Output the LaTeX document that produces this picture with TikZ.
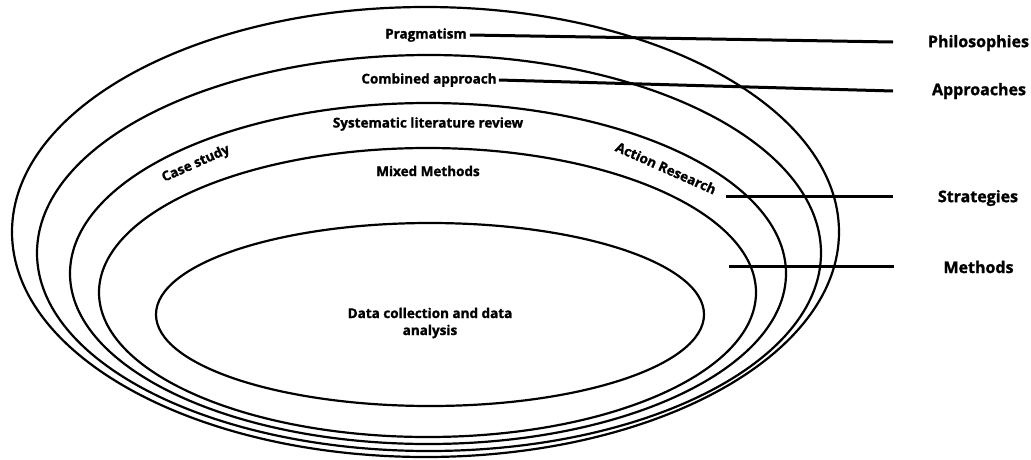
\documentclass[tikz,border=0pt]{standalone}
\usepackage{fontspec}
\setmainfont{Open Sans}[BoldFeatures={FakeBold=1.3}]
\begin{document}
\begin{tikzpicture}[x=1pt,y=-1pt,
  ring/.style={line width=2.2pt},
  conn/.style={line width=3pt},
  inlabel/.style={font=\fontsize{13.5}{16}\selectfont\bfseries, inner sep=1pt},
  layer/.style={font=\fontsize{16}{19}\selectfont\bfseries, inner sep=1pt}]
\useasboundingbox (0,0) rectangle (1031,459);

% nested onion layers, outermost first
\draw[ring] (425.5,232)   ellipse [x radius=413.5pt, y radius=225pt];
\draw[ring] (429,253)     ellipse [x radius=392pt,   y radius=198pt];
\draw[ring] (428,273.5)   ellipse [x radius=358pt,   y radius=170.5pt];
\draw[ring] (427.5,292.5) ellipse [x radius=328.5pt, y radius=144.5pt];
\draw[ring] (430,314.5)   ellipse [x radius=274pt,   y radius=91.5pt];

% texts inside the layers
\node[inlabel] (prag) at (426,35)  {Pragmatism};
\node[inlabel] (comb) at (429,80)  {Combined approach};
\node[inlabel] (slr)  at (428,124) {Systematic literature review};
\node[inlabel] (mixed) at (428,171) {Mixed Methods};
\node[inlabel, rotate=24]  (case)   at (196,164) {Case study};
\node[inlabel, rotate=-24] (action) at (666,168) {Action Research};
\node[inlabel, align=center, font=\fontsize{13.5}{17}\selectfont\bfseries]
  (data) at (430,323) {Data collection and data\\analysis};

% layer names on the right
\node[layer] (phil)  at (978.5,43)  {Philosophies};
\node[layer] (appr)  at (979,91)    {Approaches};
\node[layer] (strat) at (978,198)   {Strategies};
\node[layer] (meth)  at (978.5,267) {Methods};

% leader line end points
\coordinate (philEnd)   at (893,42);
\coordinate (apprEnd)   at (893,91);
\coordinate (stratBeg)  at (726,196);
\coordinate (stratEnd)  at (893,196);
\coordinate (methBeg)   at (729,266);
\coordinate (methEnd)   at (894,266);

\draw[conn] ([xshift=2pt]prag.east) -- (philEnd);
\draw[conn] ([xshift=1pt]comb.east) -- (apprEnd);
\draw[conn] (stratBeg) -- (stratEnd);
\draw[conn] (methBeg) -- (methEnd);
\end{tikzpicture}
\end{document}
